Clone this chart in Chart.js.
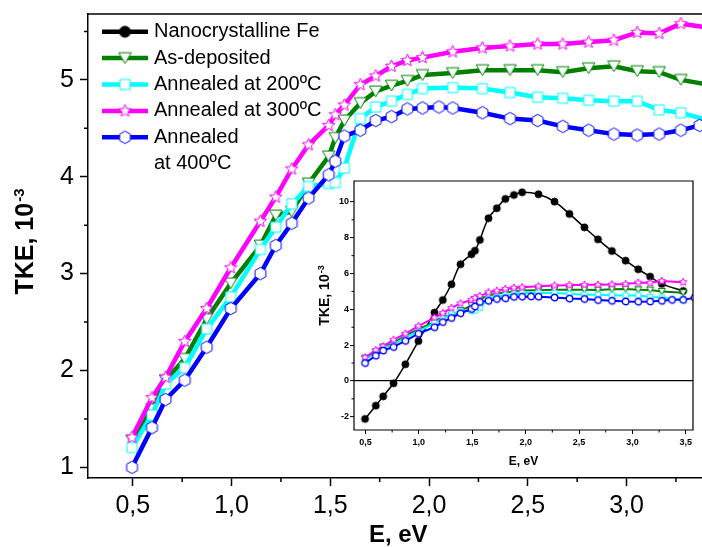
<!DOCTYPE html>
<html>
<head>
<meta charset="utf-8">
<script src="https://cdn.jsdelivr.net/npm/chart.js@4.4.1/dist/chart.umd.min.js"></script>
<style>
  html, body { margin: 0; padding: 0; background: #fff; overflow: hidden; }
  #wrap { position: relative; width: 702px; height: 547px; overflow: hidden; background: #fff; }
  #main { position: absolute; left: 0; top: 0; }
  #inset { position: absolute; left: 300px; top: 170px; }
</style>
</head>
<body>
<div id="wrap">
  <canvas id="main" width="718" height="547" style="width:718px;height:547px"></canvas>
  <canvas id="inset" width="402" height="300" style="width:402px;height:300px"></canvas>
</div>
<script>
// photon energy, eV (common sampling of all curves)
const energy = [0.496, 0.597, 0.666, 0.763, 0.874, 0.996, 1.146, 1.224, 1.305, 1.390,
                1.492, 1.525, 1.571, 1.652, 1.730, 1.810, 1.890, 1.967, 2.050, 2.120,
                2.270, 2.410, 2.550, 2.677, 2.808, 2.936, 3.054, 3.165, 3.275, 3.370,
                3.475, 3.580];

// TKE, 10^-3 (null = no point at that energy)
const feTke = [-2.12, -1.38, -0.86, -0.13, 0.93, 2.23, 3.82, 4.52, 5.40, 6.52,
               7.08, 7.28, 7.88, 9.09, 9.65, 10.17, 10.39, 10.54, null, 10.43,
               10.02, 9.33, 8.58, 7.91, 7.26, 6.72, 6.24, 5.83, 5.42, null,
               5.03, null];
const asDepTke = [1.28, 1.60, 1.90, 2.12, 2.53, 2.90, 3.29, 3.60, 3.64, 3.93,
                  4.21, 4.40, 4.58, 4.76, 4.88, 4.94, 4.99, 5.05, null, 5.07,
                  5.10, 5.10, 5.10, 5.08, 5.12, 5.14, 5.09, 5.08, 5.00, null,
                  4.93, null];
const ann200Tke = [1.205, 1.54, 1.86, 2.03, 2.43, 2.76, 3.25, 3.48, 3.72, 3.90,
                   3.93, 3.94, 4.09, 4.60, 4.72, 4.78, 4.85, 4.91, null, 4.92,
                   4.91, 4.87, 4.82, 4.81, 4.79, 4.78, 4.78, 4.69, 4.66, null,
                   4.55, null];
const ann300Tke = [1.31, 1.72, 1.93, 2.30, 2.64, 3.06, 3.54, 3.79, 4.08, 4.33,
                   4.53, 4.64, 4.74, 4.95, 5.04, 5.14, 5.20, 5.23, null, 5.29,
                   5.33, 5.35, 5.37, 5.37, 5.39, 5.41, 5.49, 5.48, 5.58, null,
                   5.52, null];
const ann400Tke = [1.00, 1.41, 1.70, 1.90, 2.24, 2.64, 3.00, 3.29, 3.52, 3.78,
                   4.02, 4.16, 4.42, 4.48, 4.58, 4.62, 4.70, 4.71, 4.72, 4.71,
                   4.66, 4.60, 4.58, 4.52, 4.48, 4.44, 4.43, 4.44, 4.48, 4.53,
                   4.53, 4.65];

const legendLabels = [['Nanocrystalline Fe'], ['As-deposited'], ['Annealed at 200ºC'],
                      ['Annealed at 300ºC'], ['Annealed', 'at 400ºC']];

const mainXTicks = [0.5, 1.0, 1.5, 2.0, 2.5, 3.0];
const mainXLabels = ['0,5', '1,0', '1,5', '2,0', '2,5', '3,0'];
const mainXMinor = [0.75, 1.25, 1.75, 2.25, 2.75, 3.25];
const mainYTicks = [1, 2, 3, 4, 5];
const mainYLabels = ['1', '2', '3', '4', '5'];
const mainYMinor = [1.5, 2.5, 3.5, 4.5, 5.5];

const insetXTicks = [0.5, 1.0, 1.5, 2.0, 2.5, 3.0, 3.5];
const insetXLabels = ['0,5', '1,0', '1,5', '2,0', '2,5', '3,0', '3,5'];
const insetXMinor = [0.75, 1.25, 1.75, 2.25, 2.75, 3.25];
const insetYTicks = [-2, 0, 2, 4, 6, 8, 10];
const insetYLabels = ['-2', '0', '2', '4', '6', '8', '10'];
const insetYMinor = [-1, 1, 3, 5, 7, 9];

const FONT = "'Liberation Sans', Arial, Helvetica, sans-serif";
Chart.defaults.font.family = FONT;
Chart.defaults.color = '#000';

const BLACK = '#000000', GREEN = '#008000', CYAN = '#00ffff', MAGENTA = '#ff00ff', BLUE = '#0000ff';

function toPoints(vals) {
  return energy.map((e, i) => vals[i] == null ? null : { x: e, y: vals[i] }).filter(Boolean);
}

// marker sprites (white filled, coloured outline)
function makeMarker(shape, size, stroke, fill, lw) {
  const pad = Math.ceil(lw) + 1;
  const s = Math.ceil(size) + pad * 2;
  const c = document.createElement('canvas');
  c.width = c.height = s;
  const g = c.getContext('2d');
  const m = s / 2, r = size / 2;
  g.beginPath();
  if (shape === 'hex') {
    for (let k = 0; k < 6; k++) {
      const a = -Math.PI / 2 + Math.PI / 3 * k;
      g.lineTo(m + r * Math.cos(a), m + r * Math.sin(a));
    }
  } else if (shape === 'square') {
    g.rect(m - r, m - r, 2 * r, 2 * r);
  } else if (shape === 'tri') {
    const h = r * 0.866;
    g.moveTo(m - r, m - h); g.lineTo(m + r, m - h); g.lineTo(m, m + h);
  } else if (shape === 'star') {
    for (let k = 0; k < 10; k++) {
      const a = -Math.PI / 2 + Math.PI / 5 * k;
      const rr = k % 2 ? r * 0.45 : r;
      g.lineTo(m + rr * Math.cos(a), m + rr * Math.sin(a));
    }
  } else {
    g.arc(m, m, r, 0, Math.PI * 2);
  }
  g.closePath();
  g.fillStyle = fill; g.fill();
  g.lineWidth = lw; g.strokeStyle = stroke; g.stroke();
  return c;
}

const big = {
  fe: makeMarker('dot', 11, BLACK, BLACK, 1),
  asDep: makeMarker('tri', 12.5, GREEN, '#fff', 1),
  a200: makeMarker('square', 10, CYAN, '#fff', 1),
  a300: makeMarker('star', 13, MAGENTA, '#fff', 1),
  a400: makeMarker('hex', 12.5, BLUE, '#fff', 1)
};
const small = {
  fe: makeMarker('dot', 7, BLACK, BLACK, 1),
  asDep: makeMarker('tri', 7, GREEN, '#fff', 1),
  a200: makeMarker('square', 5.5, CYAN, '#fff', 1),
  a300: makeMarker('star', 8, MAGENTA, '#fff', 1),
  a400: makeMarker('dot', 6.5, BLUE, '#fff', 1.3)
};

function line(vals, color, width, marker, extra) {
  return Object.assign({
    data: toPoints(vals),
    borderColor: color,
    backgroundColor: color,
    borderWidth: width,
    pointStyle: marker,
    pointRadius: 5,
    pointHoverRadius: 5,
    tension: 0,
    fill: false
  }, extra || {});
}

function fixedTicks(values) {
  return s => { s.ticks = values.map(v => ({ value: v })); };
}

// axis width/height fixed, no extra label padding pushed into the layout
function fitBox(w, h) {
  return s => {
    if (w != null) s.width = w;
    if (h != null) s.height = h;
    s.paddingTop = 0; s.paddingBottom = 0;
  };
}

// short ticks between labelled ones
const minorTicks = {
  id: 'minorTicks',
  afterDraw(chart, args, opts) {
    const { ctx, chartArea: a, scales } = chart;
    ctx.save();
    ctx.strokeStyle = '#000';
    ctx.lineWidth = opts.width;
    ctx.beginPath();
    opts.x.forEach(v => {
      const p = scales.x.getPixelForValue(v);
      ctx.moveTo(p, a.bottom); ctx.lineTo(p, a.bottom + opts.len);
    });
    opts.y.forEach(v => {
      const p = scales.y.getPixelForValue(v);
      ctx.moveTo(a.left - opts.len, p); ctx.lineTo(a.left, p);
    });
    ctx.stroke();
    ctx.restore();
  }
};

const frame = {
  id: 'frame',
  beforeDraw(chart, args, opts) {
    if (!opts.fill) return;
    const { ctx, chartArea: a } = chart;
    ctx.save();
    ctx.fillStyle = opts.fill;
    ctx.fillRect(a.left, a.top, a.right - a.left, a.bottom - a.top);
    ctx.restore();
  },
  afterDraw(chart, args, opts) {
    const { ctx, chartArea: a } = chart;
    ctx.save();
    ctx.strokeStyle = '#000';
    ctx.lineWidth = opts.width;
    ctx.beginPath();
    if (opts.box) {
      ctx.rect(a.left, a.top, a.right - a.left, a.bottom - a.top);
    } else {
      ctx.moveTo(a.left, a.top); ctx.lineTo(a.right, a.top);
    }
    ctx.stroke();
    ctx.restore();
  }
};

// axis titles, y title carries a superscript
const axisTitles = {
  id: 'axisTitles',
  afterDraw(chart, args, o) {
    const { ctx, chartArea: a } = chart;
    ctx.save();
    ctx.fillStyle = '#000';
    ctx.font = 'bold ' + o.xSize + 'px ' + FONT;
    ctx.textAlign = 'center';
    ctx.textBaseline = 'middle';
    ctx.fillText('E, eV', (a.left + a.right) / 2, o.xY);

    ctx.translate(o.yX, o.yCenter);
    ctx.rotate(-Math.PI / 2);
    const f1 = 'bold ' + o.ySize + 'px ' + FONT;
    const f2 = 'bold ' + o.supSize + 'px ' + FONT;
    ctx.font = f1; const w1 = ctx.measureText('TKE, 10').width;
    ctx.font = f2; const w2 = ctx.measureText('-3').width;
    const x0 = -(w1 + w2) / 2;
    ctx.textAlign = 'left';
    ctx.textBaseline = 'alphabetic';
    ctx.font = f1; ctx.fillText('TKE, 10', x0, 0);
    ctx.font = f2; ctx.fillText('-3', x0 + w1 + 1, -o.supRaise);
    ctx.restore();
  }
};

const legendStyles = [
  { color: BLACK, marker: big.fe },
  { color: GREEN, marker: big.asDep },
  { color: CYAN, marker: big.a200 },
  { color: MAGENTA, marker: big.a300 },
  { color: BLUE, marker: big.a400 }
];

const mainLegend = {
  id: 'mainLegend',
  afterDraw(chart) {
    const { ctx, chartArea: a } = chart;
    const x0 = a.left + 14, x1 = a.left + 60, xm = (x0 + x1) / 2, xt = a.left + 66;
    let y = a.top + 17.7;
    const step = 26.4;
    ctx.save();
    ctx.font = '20px ' + FONT;
    ctx.textBaseline = 'middle';
    ctx.textAlign = 'left';
    legendLabels.forEach((lines, i) => {
      const st = legendStyles[i];
      ctx.strokeStyle = st.color;
      ctx.lineWidth = 4.5;
      ctx.beginPath(); ctx.moveTo(x0, y); ctx.lineTo(x1, y); ctx.stroke();
      ctx.drawImage(st.marker, xm - st.marker.width / 2, y - st.marker.height / 2);
      ctx.fillStyle = '#000';
      lines.forEach((t, k) => ctx.fillText(t, xt, y + k * step));
      y += step * lines.length;
    });
    ctx.restore();
  }
};

new Chart(document.getElementById('main'), {
  type: 'line',
  data: {
    datasets: [
      line(ann400Tke, BLUE, 4.5, big.a400),
      line(ann300Tke, MAGENTA, 4.5, big.a300),
      line(ann200Tke, CYAN, 4.5, big.a200),
      line(asDepTke, GREEN, 4.5, big.asDep)
    ]
  },
  options: {
    responsive: false,
    animation: false,
    events: [],
    layout: { padding: { top: 14, right: 0, bottom: 0, left: 0 } },
    plugins: {
      legend: { display: false },
      tooltip: { enabled: false },
      minorTicks: { x: mainXMinor, y: mainYMinor, len: 4, width: 1.5 },
      frame: { width: 1.5, box: false },
      axisTitles: { xSize: 24, xY: 535, ySize: 25, supSize: 15, supRaise: 9, yX: 33, yCenter: 242 }
    },
    scales: {
      x: {
        type: 'linear', min: 0.273, max: 3.415,
        afterFit: fitBox(null, 69),
        afterBuildTicks: fixedTicks(mainXTicks),
        ticks: { callback: (v, i) => mainXLabels[i], font: { size: 25 }, color: '#000', padding: 5, maxRotation: 0, autoSkip: false },
        grid: { display: true, drawOnChartArea: false, drawTicks: true, tickLength: 8, tickWidth: 1.5, tickColor: '#000' },
        border: { display: true, color: '#000', width: 1.5 }
      },
      y: {
        type: 'linear', min: 0.89, max: 5.68,
        afterFit: fitBox(88, null),
        afterBuildTicks: fixedTicks(mainYTicks),
        ticks: { callback: (v, i) => mainYLabels[i], font: { size: 25 }, color: '#000', padding: 6, autoSkip: false },
        grid: { display: true, drawOnChartArea: false, drawTicks: true, tickLength: 8, tickWidth: 1.5, tickColor: '#000' },
        border: { display: true, color: '#000', width: 1.5 }
      }
    }
  },
  plugins: [minorTicks, frame, axisTitles, mainLegend]
});

new Chart(document.getElementById('inset'), {
  type: 'line',
  data: {
    datasets: [
      line(ann400Tke, BLUE, 2, small.a400),
      line(ann300Tke, MAGENTA, 2, small.a300),
      line(ann200Tke, CYAN, 2, small.a200),
      line(asDepTke, GREEN, 2, small.asDep),
      line(feTke, BLACK, 1.5, small.fe, { tension: 0.4 })
    ]
  },
  options: {
    responsive: false,
    animation: false,
    events: [],
    layout: { padding: { top: 11, right: 9, bottom: 0, left: 0 } },
    plugins: {
      legend: { display: false },
      tooltip: { enabled: false },
      minorTicks: { x: insetXMinor, y: insetYMinor, len: 2.5, width: 1 },
      frame: { width: 1.2, box: true, fill: '#fff' },
      axisTitles: { xSize: 12, xY: 292, ySize: 14, supSize: 9, supRaise: 5, yX: 28.5, yCenter: 126 }
    },
    scales: {
      x: {
        type: 'linear', min: 0.393, max: 3.567,
        afterFit: fitBox(null, 40),
        afterBuildTicks: fixedTicks(insetXTicks),
        ticks: { callback: (v, i) => insetXLabels[i], font: { size: 9, weight: 'bold' }, color: '#000', padding: 3, maxRotation: 0, autoSkip: false },
        grid: { display: true, drawOnChartArea: false, drawTicks: true, tickLength: 4, tickWidth: 1, tickColor: '#000' },
        border: { display: false }
      },
      y: {
        type: 'linear', min: -2.74, max: 11.17,
        afterFit: fitBox(54, null),
        afterBuildTicks: fixedTicks(insetYTicks),
        ticks: { callback: (v, i) => insetYLabels[i], font: { size: 9, weight: 'bold' }, color: '#000', padding: 1, autoSkip: false },
        grid: {
          display: true, drawOnChartArea: true, drawTicks: true, tickLength: 4, tickWidth: 1, tickColor: '#000',
          color: c => (c.tick && c.tick.value === 0) ? '#000' : 'rgba(0,0,0,0)', lineWidth: 1.2
        },
        border: { display: false }
      }
    }
  },
  plugins: [minorTicks, frame, axisTitles]
});
</script>
</body>
</html>
